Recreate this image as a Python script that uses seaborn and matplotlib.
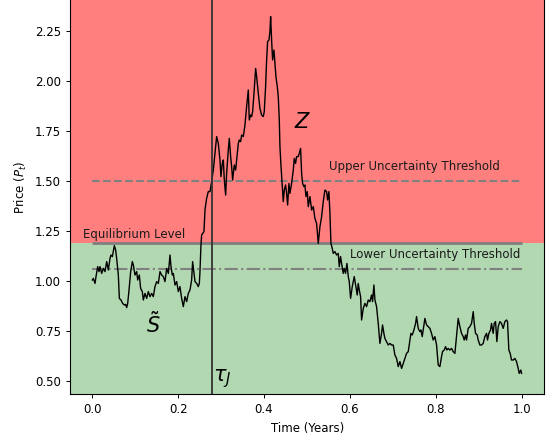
import matplotlib
matplotlib.use("Agg")
import matplotlib.pyplot as plt
import seaborn as sns
import pandas as pd

# Simulated price path: time (years) and price levels
times = [
    0.000, 0.0024, 0.0063, 0.0086, 0.0125, 0.0156, 0.0179, 0.0218, 0.0257, 0.0296,
    0.0335, 0.0373, 0.0412, 0.0435, 0.0467, 0.0513, 0.0544, 0.0567, 0.0606, 0.0630,
    0.0668, 0.0707, 0.0746, 0.0777, 0.0800, 0.0824, 0.0855, 0.0894, 0.0932, 0.0956,
    0.0994, 0.1033, 0.1057, 0.1095, 0.1126, 0.1165, 0.1188, 0.1227, 0.1266, 0.1305,
    0.1344, 0.1383, 0.1421, 0.1460, 0.1499, 0.1538, 0.1577, 0.1615, 0.1654, 0.1693,
    0.1732, 0.1771, 0.1810, 0.1833, 0.1864, 0.1887, 0.1926, 0.1965, 0.2004, 0.2042,
    0.2081, 0.2120, 0.2159, 0.2198, 0.2236, 0.2275, 0.2314, 0.2337, 0.2368, 0.2392,
    0.2431, 0.2469, 0.2493, 0.2508, 0.2531, 0.2547, 0.2601, 0.2625, 0.2663, 0.2702,
    0.2741, 0.2780, 0.2819, 0.2857, 0.2896, 0.2935, 0.2974, 0.2997, 0.3028, 0.3052,
    0.3075, 0.3106, 0.3129, 0.3168, 0.3191, 0.3222, 0.3246, 0.3269, 0.3308, 0.3339,
    0.3362, 0.3401, 0.3424, 0.3455, 0.3479, 0.3517, 0.3556, 0.3595, 0.3634, 0.3657,
    0.3688, 0.3711, 0.3735, 0.3766, 0.3805, 0.3828, 0.3867, 0.3905, 0.3944, 0.3983,
    0.4006, 0.4037, 0.4061, 0.4084, 0.4115, 0.4138, 0.4154, 0.4177, 0.4200, 0.4231,
    0.4255, 0.4278, 0.4309, 0.4332, 0.4356, 0.4371, 0.4394, 0.4426, 0.4449, 0.4472,
    0.4503, 0.4526, 0.4550, 0.4581, 0.4604, 0.4643, 0.4682, 0.4705, 0.4736, 0.4759,
    0.4798, 0.4821, 0.4852, 0.4876, 0.4899, 0.4930, 0.4953, 0.4977, 0.5008, 0.5031,
    0.5070, 0.5109, 0.5148, 0.5186, 0.5225, 0.5264, 0.5303, 0.5342, 0.5380, 0.5419,
    0.5458, 0.5481, 0.5512, 0.5536, 0.5559, 0.5590, 0.5613, 0.5652, 0.5691, 0.5730,
    0.5753, 0.5784, 0.5807, 0.5846, 0.5869, 0.5900, 0.5932, 0.5947, 0.5963, 0.5986,
    0.6017, 0.6056, 0.6102, 0.6141, 0.6172, 0.6195, 0.6219, 0.6250, 0.6273, 0.6312,
    0.6351, 0.6390, 0.6428, 0.6467, 0.6506, 0.6529, 0.6560, 0.6584, 0.6622, 0.6661,
    0.6700, 0.6739, 0.6762, 0.6793, 0.6816, 0.6855, 0.6894, 0.6933, 0.6972, 0.7011,
    0.7049, 0.7088, 0.7127, 0.7166, 0.7205, 0.7243, 0.7282, 0.7321, 0.7360, 0.7399,
    0.7422, 0.7453, 0.7492, 0.7531, 0.7554, 0.7593, 0.7632, 0.7655, 0.7686, 0.7709,
    0.7748, 0.7787, 0.7826, 0.7865, 0.7903, 0.7942, 0.7981, 0.8020, 0.8058, 0.8097,
    0.8136, 0.8159, 0.8198, 0.8229, 0.8260, 0.8291, 0.8330, 0.8369, 0.8408, 0.8447,
    0.8485, 0.8524, 0.8563, 0.8602, 0.8641, 0.8664, 0.8695, 0.8718, 0.8757, 0.8796,
    0.8835, 0.8874, 0.8897, 0.8928, 0.8967, 0.8990, 0.9029, 0.9068, 0.9106, 0.9145,
    0.9184, 0.9207, 0.9238, 0.9277, 0.9300, 0.9339, 0.9363, 0.9394, 0.9425, 0.9456,
    0.9495, 0.9533, 0.9572, 0.9611, 0.9650, 0.9673, 0.9704, 0.9735, 0.9766, 0.9805,
    0.9844, 0.9883, 0.9922, 0.9945, 0.9983, 1.0000,
]
prices = [
    1.005, 1.013, 0.988, 1.022, 1.072, 1.047, 1.072, 1.038, 1.063, 1.047,
    1.097, 1.055, 1.113, 1.130, 1.122, 1.177, 1.155, 1.113, 1.030, 0.913,
    0.905, 0.888, 0.880, 0.883, 0.867, 0.888, 0.955, 1.047, 1.097, 1.080,
    1.030, 1.047, 1.005, 1.030, 0.963, 0.947, 0.905, 0.938, 0.913, 0.947,
    0.922, 0.938, 0.922, 0.972, 0.997, 0.988, 1.047, 1.030, 1.022, 0.997,
    1.063, 1.038, 1.130, 1.072, 1.030, 1.038, 0.980, 0.997, 0.947, 0.972,
    0.913, 0.872, 0.922, 0.897, 0.938, 0.955, 1.005, 1.097, 1.038, 0.997,
    0.988, 0.972, 0.988, 1.047, 1.180, 1.230, 1.247, 1.355, 1.413, 1.447,
    1.447, 1.497, 1.555, 1.638, 1.722, 1.688, 1.605, 1.522, 1.588, 1.605,
    1.505, 1.430, 1.538, 1.655, 1.713, 1.622, 1.572, 1.505, 1.580, 1.555,
    1.605, 1.688, 1.705, 1.697, 1.730, 1.722, 1.780, 1.872, 1.955, 1.805,
    1.830, 1.822, 1.847, 1.938, 2.063, 2.022, 1.938, 1.863, 1.830, 1.822,
    1.847, 1.972, 2.105, 2.197, 2.205, 2.247, 2.322, 2.205, 2.105, 2.155,
    2.088, 2.022, 1.972, 1.922, 1.805, 1.672, 1.580, 1.472, 1.397, 1.455,
    1.480, 1.438, 1.380, 1.488, 1.438, 1.488, 1.555, 1.613, 1.588, 1.622,
    1.622, 1.638, 1.663, 1.538, 1.488, 1.472, 1.480, 1.422, 1.447, 1.372,
    1.422, 1.355, 1.372, 1.313, 1.288, 1.188, 1.272, 1.322, 1.397, 1.455,
    1.447, 1.405, 1.447, 1.338, 1.188, 1.163, 1.138, 1.147, 1.130, 1.138,
    1.072, 1.122, 1.088, 1.038, 1.063, 1.038, 1.088, 1.055, 1.022, 0.997,
    0.913, 0.972, 1.022, 0.972, 0.930, 0.988, 0.955, 0.922, 0.805, 0.863,
    0.888, 0.872, 0.905, 0.897, 0.930, 0.897, 0.980, 0.905, 0.872, 0.788,
    0.688, 0.738, 0.780, 0.738, 0.713, 0.697, 0.680, 0.688, 0.680, 0.680,
    0.630, 0.613, 0.572, 0.597, 0.563, 0.588, 0.613, 0.638, 0.647, 0.705,
    0.738, 0.730, 0.755, 0.788, 0.822, 0.763, 0.747, 0.755, 0.722, 0.755,
    0.813, 0.780, 0.772, 0.763, 0.738, 0.705, 0.722, 0.680, 0.580, 0.572,
    0.622, 0.647, 0.655, 0.672, 0.655, 0.663, 0.655, 0.663, 0.647, 0.638,
    0.722, 0.813, 0.772, 0.738, 0.722, 0.705, 0.730, 0.705, 0.763, 0.772,
    0.788, 0.847, 0.788, 0.738, 0.730, 0.705, 0.680, 0.680, 0.688, 0.722,
    0.738, 0.705, 0.738, 0.755, 0.788, 0.738, 0.788, 0.797, 0.697, 0.772,
    0.797, 0.788, 0.763, 0.797, 0.805, 0.797, 0.655, 0.638, 0.605, 0.605,
    0.613, 0.597, 0.563, 0.538, 0.555, 0.538,
]

# Reference levels
equilibrium_level = 1.19
upper_threshold = 1.50
lower_threshold = 1.06
jump_time = 0.279

plt.rcParams.update({
    "font.family": "DejaVu Sans",
    "font.size": 8.5,
    "axes.linewidth": 0.8,
    "xtick.major.size": 3,
    "ytick.major.size": 3,
    "xtick.major.width": 0.7,
    "ytick.major.width": 0.7,
})

df = pd.DataFrame({"t": times, "price": prices})

fig = plt.figure(figsize=(5.46, 4.43), dpi=100)
ax = fig.add_axes([0.1282, 0.1099, 0.8687, 0.9330])

ax.set_xlim(-0.052, 1.053)
ax.set_ylim(0.4335, 2.5)

# Regime shading above / below the equilibrium level
ax.axhspan(equilibrium_level, 2.5, color="red", alpha=0.5, lw=0, zorder=0)
ax.axhspan(0.4335, equilibrium_level, color="green", alpha=0.3, lw=0, zorder=0)

ax.hlines(equilibrium_level, 0, 1, colors="gray", lw=2, zorder=1)
ax.hlines(upper_threshold, 0, 1, colors="gray", lw=1.5, linestyles="--", zorder=1)
ax.hlines(lower_threshold, 0, 1, colors="gray", lw=1.5, linestyles="-.", zorder=1)
ax.axvline(jump_time, color="#333333", lw=1.3, zorder=3)

sns.lineplot(data=df, x="t", y="price", color="black", lw=1.0,
             estimator=None, sort=False, ax=ax, zorder=2)

txt_color = "#1a1a1a"
ax.text(-0.0217, 1.213, "Equilibrium Level", color=txt_color, fontsize=8.5,
        ha="left", va="baseline")
ax.text(0.552, 1.555, "Upper Uncertainty Threshold", color=txt_color,
        fontsize=8.5, ha="left", va="baseline")
ax.text(0.600, 1.115, "Lower Uncertainty Threshold", color=txt_color,
        fontsize=8.5, ha="left", va="baseline")
ax.text(0.470, 1.763, "$Z$", fontsize=15, ha="left", va="baseline")
ax.text(0.124, 0.738, r"$\tilde{S}$", fontsize=15, ha="left", va="baseline")
ax.text(0.282, 0.50, r"$\tau_J$", fontsize=15, ha="left", va="baseline")

ax.set_xticks([0.0, 0.2, 0.4, 0.6, 0.8, 1.0])
ax.set_yticks([0.50, 0.75, 1.00, 1.25, 1.50, 1.75, 2.00, 2.25])
ax.set_yticklabels(["0.50", "0.75", "1.00", "1.25", "1.50", "1.75", "2.00", "2.25"])
ax.set_xlabel("Time (Years)")
ax.set_ylabel("Price ($P_t$)")

fig.savefig("out.png", dpi=100)
